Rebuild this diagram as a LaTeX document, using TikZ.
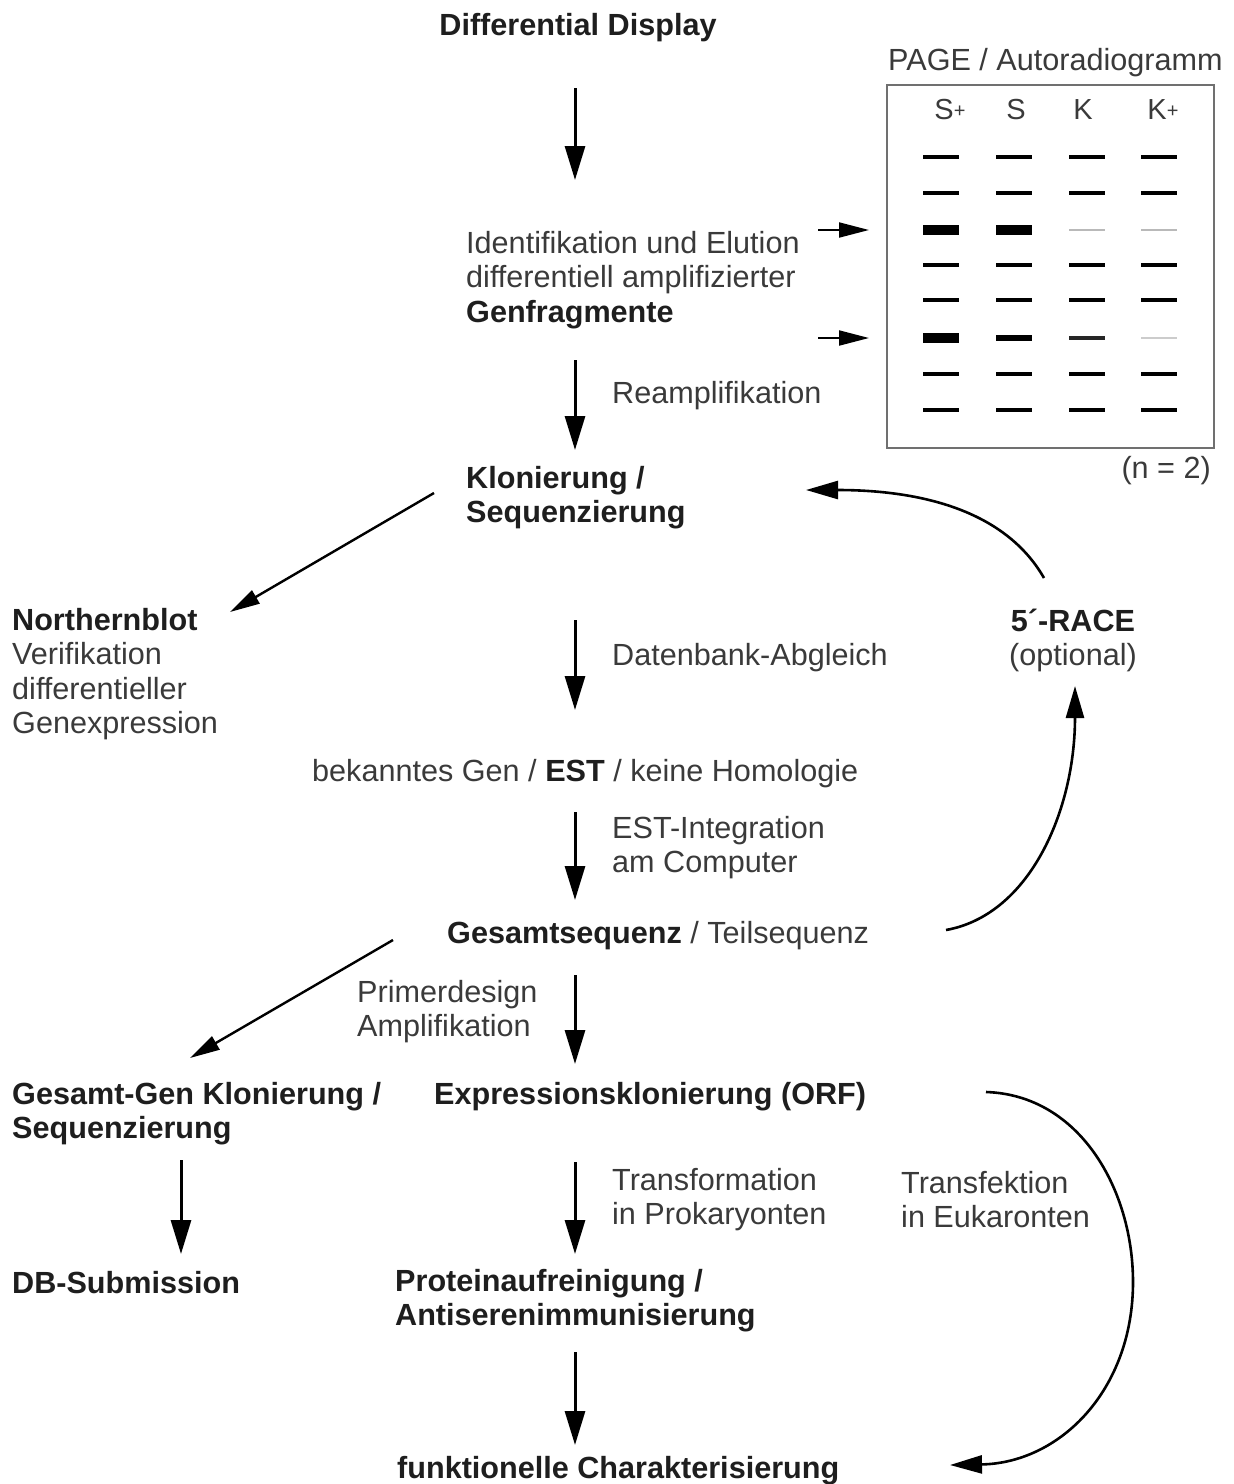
\documentclass[tikz,border=0pt]{standalone}
\usepackage{fontspec}
\setmainfont{Liberation Sans}
\usetikzlibrary{arrows.meta}
\definecolor{txtgray}{HTML}{3A3A3A}
\definecolor{boldgray}{HTML}{1E1E1E}
\definecolor{framegray}{HTML}{707070}
\newcommand\bt[1]{{\bfseries\color{boldgray}#1}}
\begin{document}
\begin{tikzpicture}[x=1pt,y=-1pt,
  reg/.style={font=\fontsize{30.6}{34.5}\selectfont, text=txtgray, inner sep=0pt, align=left, anchor=north west},
  bld/.style={reg, font=\fontsize{30.6}{34.5}\selectfont\bfseries, text=boldgray},
  ctr/.style={reg, anchor=north, align=center},
  arr/.style={line width=3pt, -{Triangle[length=34pt,width=20pt]}},
  sarr/.style={line width=2pt, -{Triangle[length=30pt,width=15pt]}},
  carr/.style={line width=2.6pt, -{Triangle[length=32pt,width=18pt]}},
  band/.style={line width=3.8pt},
  thick band/.style={line width=10pt},
  faint band/.style={line width=1.3pt, draw=gray!55},
  lane/.style={font=\fontsize{29}{34}\selectfont, text=txtgray, inner sep=0pt}]
\useasboundingbox (0,0) rectangle (1234,1484);
\fill[white] (0,0) rectangle (1234,1484);

% ---- text nodes ----
\node[bld, anchor=north] (dd) at (578,11) {\strut Differential Display};
\node[reg] (ident) at (466,229) {\strut Identifikation und Elution\\differentiell amplifizierter\\\bt{Genfragmente}};
\node[reg] (ream) at (612,379) {\strut Reamplifikation};
\node[bld] (klon) at (466,464) {\strut Klonierung /\\Sequenzierung};
\node[reg] (north) at (12,606) {\strut\bt{Northernblot}\\Verifikation\\differentieller\\Genexpression};
\node[reg] (datb) at (612,641) {\strut Datenbank-Abgleich};
\node[ctr] (race) at (1073,607) {\strut\bt{5´-RACE}\\(optional)};
\node[reg] (bek) at (312,757) {\strut bekanntes Gen / \bt{EST} / keine Homologie};
\node[reg] (esti) at (612,814) {\strut EST-Integration\\am Computer};
\node[reg] (ges) at (447,919) {\strut\bt{Gesamtsequenz} / Teilsequenz};
\node[reg] (prim) at (357,978) {\strut Primerdesign\\Amplifikation};
\node[bld] (ggk) at (12,1080) {\strut Gesamt-Gen Klonierung /\\Sequenzierung};
\node[bld] (expr) at (434,1080) {\strut Expressionsklonierung (ORF)};
\node[bld] (dbs) at (12,1269) {\strut DB-Submission};
\node[reg] (trafo) at (612,1166) {\strut Transformation\\in Prokaryonten};
\node[reg] (trafe) at (901,1169) {\strut Transfektion\\in Eukaronten};
\node[bld] (prot) at (395,1267) {\strut Proteinaufreinigung /\\Antiserenimmunisierung};
\node[bld] (funk) at (397,1454) {\strut funktionelle Charakterisierung};

% ---- gel ----
\node[reg] (page) at (888,46) {\strut PAGE / Autoradiogramm};
\node[draw=framegray, line width=1.5pt, minimum width=327pt, minimum height=363pt,
      anchor=north west, inner sep=0pt] (gel) at (886,84) {};
\node[reg, anchor=north east] (nn) at (1211,454) {\strut (n = 2)};
\node[lane] (l1) at (950,110) {S\raisebox{2pt}{\fontsize{20}{20}\selectfont+}};
\node[lane] (l2) at (1016,110) {S};
\node[lane] (l3) at (1083,110) {K};
\node[lane] (l4) at (1163,110) {K\raisebox{2pt}{\fontsize{20}{20}\selectfont+}};
\foreach \x in {941,1014,1087,1159}{
  \foreach \y in {157,193,265,300,374,410}{
    \draw[band] (\x-18,\y) -- (\x+18,\y);
  }
}
\draw[thick band] (923,230) -- (959,230);
\draw[thick band] (996,230) -- (1032,230);
\draw[faint band] (1069,230) -- (1105,230);
\draw[faint band] (1141,230) -- (1177,230);
\draw[thick band] (923,338) -- (959,338);
\draw[line width=5.5pt] (996,338) -- (1032,338);
\draw[line width=3.6pt, draw=black!85] (1069,338) -- (1105,338);
\draw[line width=1.8pt, draw=gray!40] (1141,338) -- (1177,338);

% ---- connector end points ----
\coordinate (g1a) at (818,230); \coordinate (g1b) at (869,230);
\coordinate (g2a) at (818,338); \coordinate (g2b) at (869,338);
\coordinate (a1a) at (575,88);  \coordinate (a1b) at (575,180);
\coordinate (a2a) at (575,360); \coordinate (a2b) at (575,450);
\coordinate (a3a) at (575,620); \coordinate (a3b) at (575,710);
\coordinate (a4a) at (575,812); \coordinate (a4b) at (575,900);
\coordinate (a5a) at (575,975); \coordinate (a5b) at (575,1064);
\coordinate (a6a) at (181,1160); \coordinate (a6b) at (181,1254);
\coordinate (a7a) at (575,1162); \coordinate (a7b) at (575,1254);
\coordinate (a8a) at (575,1352); \coordinate (a8b) at (575,1445);
\coordinate (d1a) at (434,493); \coordinate (d1b) at (230,612);
\coordinate (d2a) at (393,940); \coordinate (d2b) at (190,1058);
\coordinate (c1a) at (1044,578); \coordinate (c1b) at (806,490);
\coordinate (c2a) at (946,930); \coordinate (c2b) at (1075,686);
\coordinate (c3a) at (986,1092); \coordinate (c3m) at (1133,1282); \coordinate (c3b) at (950,1465);

% ---- arrows ----
\draw[sarr] (g1a) -- (g1b);
\draw[sarr] (g2a) -- (g2b);
\draw[arr] (a1a) -- (a1b);
\draw[arr] (a2a) -- (a2b);
\draw[arr] (a3a) -- (a3b);
\draw[arr] (a4a) -- (a4b);
\draw[arr] (a5a) -- (a5b);
\draw[arr] (a6a) -- (a6b);
\draw[arr] (a7a) -- (a7b);
\draw[arr] (a8a) -- (a8b);
\draw[sarr, line width=2.4pt] (d1a) -- (d1b);
\draw[sarr, line width=2.4pt] (d2a) -- (d2b);
\draw[carr] (c1a) .. controls (1005,510) and (920,490) .. (c1b);
\draw[carr] (c2a) .. controls (1030,915) and (1075,810) .. (c2b);
\draw[carr] (c3a) .. controls (1080,1095) and (1133,1190) .. (c3m)
                  .. controls (1133,1390) and (1060,1463) .. (c3b);
\end{tikzpicture}
\end{document}
